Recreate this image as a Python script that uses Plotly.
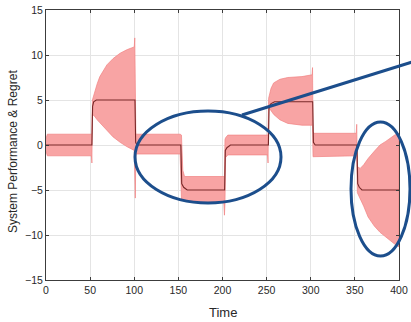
import plotly.graph_objects as go

# ---- data ----
band_t = [0, 1.5, 51.5, 52, 52.6, 55, 58, 61, 65, 69, 76, 84, 92, 100, 100.6, 101.2, 101.8,
          152, 153.5, 155, 157, 201.5, 202.2, 202.8, 203.5, 206, 251, 251.6, 252.3, 255, 258,
          265, 274, 290, 301.5, 302, 302.6, 303.5, 351.5, 352.1, 352.8, 356, 360, 365, 372,
          378.5, 385, 390, 395, 400]
band_upper = [0.7, 1.2, 1.2, 1.2, 5.0, 5.9, 6.8, 7.6, 8.3, 8.9, 9.6, 10.2, 10.6, 10.9, 11.9, 1.5, 1.2,
              1.2, 1.1, -2.8, -3.5, -3.5, -3.5, 0.6, 0.8, 1.1, 1.1, 1.1, 5.2, 6.3, 6.9,
              7.3, 7.5, 7.6, 7.8, 8.6, 1.5, 1.3, 1.3, 2.3, -2.4, -2.6, -2.2, -1.5, -0.7,
              0.0, 0.4, 0.8, 1.1, 1.3]
band_lower = [-0.7, -1.2, -1.2, -2.0, 3.4, 3.2, 2.8, 2.5, 2.0, 1.6, 0.9, 0.3, -0.2, -0.6, -0.7, -5.9, -1.0,
              -1.0, -6.0, -6.1, -6.2, -6.4, -7.8, -6.4, -1.4, -1.1, -1.1, -2.0, 4.2, 3.8, 3.4,
              2.8, 2.4, 2.2, 2.2, 2.2, -1.3, -1.3, -1.2, -1.2, -5.3, -5.9, -6.8, -8.0, -9.0,
              -9.7, -10.2, -10.6, -11.0, -11.3]

mean_t = [0, 52, 52.8, 54, 57, 100.8, 101.6, 103, 152.8, 153.8, 156, 160, 202.4, 203.2, 205, 209,
          252, 252.8, 255, 259, 302.2, 303, 305, 352.4, 353.2, 355, 358, 400]
mean_v = [0, 0, 4.3, 4.8, 5.0, 5.0, 0.3, 0, 0, -4.3, -4.7, -5.0, -5.0, -0.6, -0.3, 0, 0,
          4.3, 4.6, 4.8, 4.8, 0.3, 0, 0, -4.3, -4.7, -5.0, -5.0]

x_ticks = [0, 50, 100, 150, 200, 250, 300, 350, 400]
y_ticks = [-15, -10, -5, 0, 5, 10, 15]
x_title = "Time"
y_title = "System Performance & Regret"

# annotation marks (paper coordinates, relative to the plot area)
ellipse1 = dict(x0=(135 - 46) / 353, x1=(281 - 46) / 353, y0=(280 - 203) / 270, y1=(280 - 111) / 270)
ellipse2 = dict(x0=(351 - 46) / 353, x1=(410 - 46) / 353, y0=(280 - 256) / 270, y1=(280 - 122) / 270)
pointer = dict(x0=(242 - 46) / 353, y0=(280 - 115) / 270, x1=(425 - 46) / 353, y1=(280 - 58) / 270)

fig = go.Figure()
fig.add_trace(go.Scatter(
    x=band_t + band_t[::-1], y=band_upper + band_lower[::-1],
    fill="toself", fillcolor="rgb(248,164,164)", mode="lines",
    line=dict(color="rgb(240,130,130)", width=0.7), hoverinfo="skip", showlegend=False))
fig.add_trace(go.Scatter(
    x=mean_t, y=mean_v, mode="lines",
    line=dict(color="rgb(120,40,40)", width=1.1), showlegend=False))

blue = "rgb(28,78,140)"
fig.add_shape(type="circle", xref="paper", yref="paper", line=dict(color=blue, width=3), **ellipse1)
fig.add_shape(type="circle", xref="paper", yref="paper", line=dict(color=blue, width=3), **ellipse2)
fig.add_shape(type="line", xref="paper", yref="paper", line=dict(color=blue, width=3), **pointer)

font = "Liberation Sans, Arial"
txt = "rgb(40,40,40)"
axis_common = dict(showgrid=True, gridcolor="rgb(228,228,228)", gridwidth=1, automargin=False,
                   showline=True, linecolor="rgb(60,60,60)", linewidth=1, mirror="ticks",
                   ticks="inside", ticklen=3, tickcolor="rgb(60,60,60)", zeroline=False,
                   tickfont=dict(family=font, size=10.5, color=txt))

fig.update_layout(
    width=411, height=322,
    margin=dict(l=46, r=12, t=10, b=42, autoexpand=False),
    paper_bgcolor="white", plot_bgcolor="white",
    xaxis=dict(range=[0, 400], tickvals=x_ticks, **axis_common),
    yaxis=dict(range=[-15, 15], tickvals=y_ticks, **axis_common),
    annotations=[
        dict(text=x_title, xref="paper", yref="paper", x=0.5, y=-(312 - 280) / 270,
             xanchor="center", yanchor="middle", showarrow=False,
             font=dict(family=font, size=13, color=txt)),
        dict(text=y_title, xref="paper", yref="paper", x=(13 - 46) / 353, y=(280 - 152) / 270,
             xanchor="center", yanchor="middle", textangle=-90, showarrow=False,
             font=dict(family=font, size=12, color=txt)),
    ],
)

# remove the default page margin so the 411x322 figure fills the window exactly
fig.write_html("out.html", config={"displayModeBar": False},
               post_script="document.body.style.margin='0';")
